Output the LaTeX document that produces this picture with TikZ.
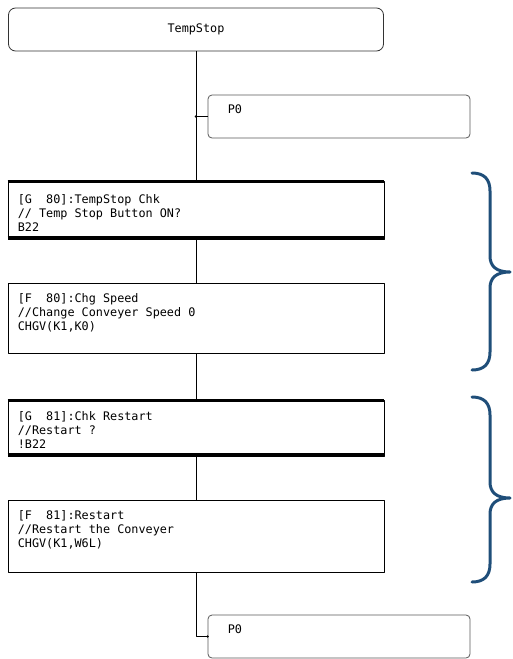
\documentclass[tikz,border=0pt]{standalone}
\usepackage{fontspec}
\newfontfamily\plcfont{DejaVu Sans Mono}
\definecolor{bracecol}{HTML}{1F4E79}

\begin{document}
\begin{tikzpicture}[x=1pt, y=-1pt, font=\plcfont\fontsize{11.8}{14}\selectfont, line join=round, line cap=round,
	box/.style={draw, line width=0.8pt, minimum width=376pt, inner sep=0pt},
	pbox/.style={draw=black!65, line width=0.8pt, rounded corners=4pt, minimum width=262pt, minimum height=43pt, inner sep=0pt},
	txt/.style={anchor=north west, align=left, inner sep=0pt},
	thickedge/.style={line width=3.2pt, line cap=butt}]
	\useasboundingbox (0,0) rectangle (512,659);
	\node[box, draw=black!80, rounded corners=7pt, minimum width=375pt, minimum height=43pt] (start) at (196,29.5) {TempStop};
	\node[pbox] (p0a) at (339,116.5) {};
	\node[txt] at ([xshift=20pt,yshift=-10pt]p0a.north west) {P0};
	\node[box, minimum height=58pt] (g80) at (196,210) {};
	\node[txt] at ([xshift=10pt,yshift=-14pt]g80.north west) {[G~~80]:TempStop Chk\\// Temp Stop Button ON?\\B22};
	\node[box, minimum height=70pt] (f80) at (196,318) {};
	\node[txt] at ([xshift=10pt,yshift=-11pt]f80.north west) {[F~~80]:Chg Speed\\//Change Conveyer Speed 0\\CHGV(K1,K0)};
	\node[box, minimum height=56pt] (g81) at (196,428) {};
	\node[txt] at ([xshift=10pt,yshift=-12pt]g81.north west) {[G~~81]:Chk Restart\\//Restart ?\\!B22};
	\node[box, minimum height=72pt] (f81) at (196,536) {};
	\node[txt] at ([xshift=10pt,yshift=-11pt]f81.north west) {[F~~81]:Restart\\//Restart the Conveyer\\CHGV(K1,W6L)};
	\node[pbox] (p0b) at (339,636.5) {};
	\node[txt] at ([xshift=20pt,yshift=-10pt]p0b.north west) {P0};
	\foreach \g in {g80, g81} {
		\draw[thickedge] ([yshift=-1pt]\g.north west) -- ([yshift=-1pt]\g.north east);
		\draw[thickedge] ([yshift=1.5pt]\g.south west) -- ([yshift=1.5pt]\g.south east);
	}
	\coordinate (tap) at (start.south |- p0a.west);
	\draw[line width=0.8pt] (start) -- (g80) -- (f80) -- (g81) -- (f81);
	\draw[line width=0.8pt] (tap) -- (p0a.west);
	\fill (tap) circle (1.3pt);
	\draw[line width=0.8pt] (f81) |- (p0b);
	\fill (p0b.west) circle (1.3pt);
	\foreach \ya/\yb/\yc in {173/272/370, 397/498/582} {
		\draw[bracecol, line width=3pt] (472,\ya) .. controls (484,\ya) and (490,\ya+6) .. (490,\ya+18) -- (490,\yb-16) .. controls (490,\yb-6) and (496,\yb) .. (510,\yb) .. controls (496,\yb) and (490,\yb+6) .. (490,\yb+16) -- (490,\yc-18) .. controls (490,\yc-6) and (484,\yc) .. (472,\yc);
	}
\end{tikzpicture}
\end{document}
